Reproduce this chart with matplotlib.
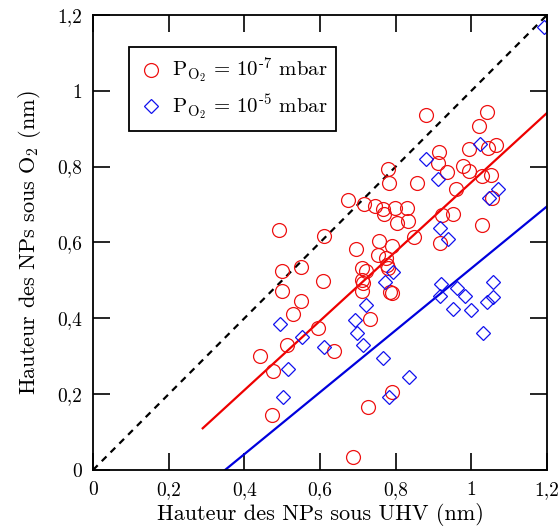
import numpy as np
import matplotlib
matplotlib.use('Agg')
import matplotlib.pyplot as plt

plt.rcParams['font.family'] = 'serif'
plt.rcParams['font.serif'] = ['cmr10']
plt.rcParams['mathtext.fontset'] = 'cm'
plt.rcParams['axes.formatter.use_mathtext'] = True

# P_O2 = 1e-7 mbar (red circles)
uhv_7 = [0.880, 1.041, 1.020, 1.065, 0.994, 1.044, 0.915, 0.780, 0.912, 0.978,
         0.936, 0.994, 1.028, 1.052, 0.782, 0.856, 0.960, 0.674, 0.716, 0.745,
         0.767, 0.769, 0.798, 0.830, 0.804, 0.833, 1.055, 0.923, 0.952, 1.028,
         0.849, 0.756, 0.790, 0.695, 0.917, 0.753, 0.774, 0.777, 0.780, 0.711,
         0.722, 0.711, 0.714, 0.711, 0.785, 0.790, 0.608, 0.611, 0.732, 0.492,
         0.499, 0.550, 0.499, 0.550, 0.529, 0.595, 0.512, 0.441, 0.476, 0.637,
         0.473, 0.727, 0.790, 0.687]
o2_7 = [0.937, 0.945, 0.908, 0.858, 0.847, 0.850, 0.839, 0.794, 0.810, 0.802,
        0.786, 0.789, 0.776, 0.778, 0.757, 0.757, 0.741, 0.712, 0.702, 0.697,
        0.689, 0.675, 0.691, 0.691, 0.652, 0.657, 0.718, 0.673, 0.675, 0.646,
        0.615, 0.604, 0.591, 0.583, 0.599, 0.567, 0.559, 0.541, 0.533, 0.533,
        0.525, 0.501, 0.493, 0.472, 0.470, 0.467, 0.499, 0.617, 0.398, 0.633,
        0.525, 0.535, 0.472, 0.446, 0.412, 0.375, 0.330, 0.301, 0.261, 0.314,
        0.145, 0.166, 0.206, 0.034]

# P_O2 = 1e-5 mbar (blue diamonds)
uhv_5 = [1.192, 0.880, 1.023, 0.912, 1.047, 1.070, 0.917, 0.938, 0.920, 0.917,
         0.962, 0.983, 0.952, 0.999, 1.057, 1.057, 1.041, 1.031, 0.793, 0.772,
         0.722, 0.693, 0.698, 0.714, 0.611, 0.553, 0.494, 0.515, 0.502, 0.767,
         0.835, 0.782]
o2_5 = [1.169, 0.820, 0.860, 0.768, 0.718, 0.741, 0.638, 0.609, 0.490, 0.459,
        0.480, 0.459, 0.425, 0.422, 0.496, 0.456, 0.443, 0.361, 0.522, 0.496,
        0.435, 0.396, 0.361, 0.330, 0.325, 0.351, 0.385, 0.267, 0.193, 0.295,
        0.245, 0.193]

# linear fits: slope, intercept, x range
fit_7 = (0.914, -0.155, 0.29, 1.2)
fit_5 = (0.817, -0.285, 0.349, 1.2)

ticks = [0, 0.2, 0.4, 0.6, 0.8, 1.0, 1.2]
tick_labels = ['0', '0,2', '0,4', '0,6', '0,8', '1', '1,2']

fig = plt.figure(figsize=(5.6, 5.32), dpi=100)
ax = fig.add_axes([0.166, 0.1165, 0.811, 0.8555])

ax.plot([0, 1.2], [0, 1.2], color='black', lw=1.6, ls=(0, (3, 2.6)))
for (a, b, x0, x1), c in [(fit_7, '#ee0000'), (fit_5, '#0000dd')]:
    xs = np.array([x0, x1])
    ax.plot(xs, a * xs + b, color=c, lw=1.6)

ax.plot(uhv_7, o2_7, ls='none', marker='o', ms=10, mfc='none', mec='#ee1111',
        mew=0.9, label=r'$\mathrm{P}_{\mathrm{O}_2}$ = 10$^{\text{-7}}$ mbar')
ax.plot(uhv_5, o2_5, ls='none', marker='D', ms=6.8, mfc='none', mec='#1111ee',
        mew=0.9, label=r'$\mathrm{P}_{\mathrm{O}_2}$ = 10$^{\text{-5}}$ mbar')

ax.set_xlim(0, 1.2)
ax.set_ylim(0, 1.2)
ax.set_xticks(ticks)
ax.set_xticklabels(tick_labels)
ax.set_yticks(ticks)
ax.set_yticklabels(tick_labels)
ax.tick_params(direction='in', length=12, width=1.2, top=True, right=True,
               labelsize=14, pad=8)
for s in ax.spines.values():
    s.set_linewidth(1.3)

ax.set_xlabel('Hauteur des NPs sous UHV (nm)', fontsize=16, labelpad=3)
ax.set_ylabel(r'Hauteur des NPs sous O$_2$ (nm)', fontsize=16, labelpad=10)

leg = ax.legend(loc='upper left', bbox_to_anchor=(0.079, 0.93), borderaxespad=0,
                fontsize=15, fancybox=False, framealpha=1, edgecolor='black',
                handletextpad=0.4, handlelength=1.2, borderpad=0.45,
                labelspacing=0.3)
leg.get_frame().set_linewidth(1.3)

plt.savefig('out.png', dpi=100)
